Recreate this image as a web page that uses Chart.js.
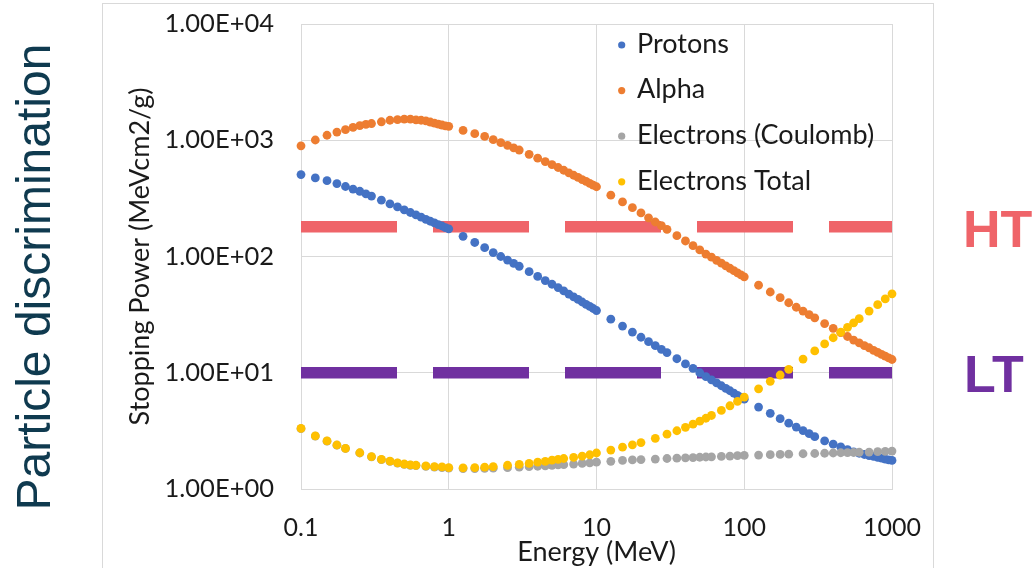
<!DOCTYPE html>
<html>
<head>
<meta charset="utf-8">
<script src="https://cdn.jsdelivr.net/npm/chart.js@4.4.1/dist/chart.umd.min.js"></script>
<style>
  html, body { margin: 0; padding: 0; background: #ffffff; }
  #wrap { width: 1036px; height: 568px; position: relative; }
</style>
</head>
<body>
<div id="wrap"><canvas id="c" width="1036" height="568"></canvas></div>
<script>
// ---------- data ----------
const energyIon = [
  0.1, 0.125, 0.15, 0.175, 0.2, 0.225, 0.25, 0.275, 0.3, 0.35, 0.4, 0.45, 0.5, 0.55, 0.6, 0.65, 0.7, 0.75, 0.8, 0.85, 0.9, 0.95,
  1, 1.25, 1.5, 1.75, 2, 2.25, 2.5, 2.75, 3, 3.5, 4, 4.5, 5, 5.5, 6, 6.5, 7, 7.5, 8, 8.5, 9, 9.5,
  10, 12.5, 15, 17.5, 20, 22.5, 25, 27.5, 30, 35, 40, 45, 50, 55, 60, 65, 70, 75, 80, 85, 90, 95,
  100, 125, 150, 175, 200, 225, 250, 275, 300, 350, 400, 450, 500, 550, 600, 650, 700, 750, 800, 850, 900, 950,
  1000
];
const protons = [
  507, 474, 449, 424, 400, 380, 364, 346, 331, 305, 284, 267, 252, 239, 228, 218, 209, 201, 195, 188, 183, 177,
  173, 149, 132, 119, 108, 100, 93.1, 87.3, 82.4, 74.0, 67.4, 62.1, 57.7, 54.0, 50.6, 47.5, 45.0, 42.7, 40.6, 38.8, 37.2, 35.7,
  34.3, 28.9, 25.2, 22.4, 20.2, 18.5, 17.1, 15.9, 14.9, 13.2, 11.9, 10.9, 10.0, 9.27, 8.69, 8.18, 7.73, 7.34, 7.00, 6.68, 6.40, 6.15,
  5.92, 5.07, 4.48, 4.03, 3.68, 3.41, 3.18, 2.99, 2.82, 2.59, 2.43, 2.30, 2.18, 2.09, 2.03, 1.98, 1.94, 1.91, 1.87, 1.84, 1.81, 1.78,
  1.76
];
const alpha = [
  895, 1005, 1104, 1175, 1233, 1288, 1337, 1368, 1393, 1442, 1486, 1503, 1517, 1517, 1500, 1486, 1466, 1435, 1406, 1377, 1352, 1330,
  1318, 1216, 1140, 1079, 1011, 953, 904, 861, 824, 757, 701, 655, 617, 583, 552, 525, 500, 479, 459, 442, 426, 411,
  398, 337, 295, 263, 237, 215, 198, 184, 171, 151, 136, 124, 114, 105, 98.6, 92.7, 87.7, 83.2, 79.2, 75.7, 72.4, 69.5,
  66.8, 56.6, 49.5, 44.2, 40.0, 36.6, 33.9, 31.6, 29.7, 26.5, 24.1, 22.1, 20.5, 19.1, 18.1, 17.1, 16.4, 15.6, 15.0, 14.4, 13.9, 13.4,
  13.0
];
const energyElectron = [
  0.1, 0.125, 0.15, 0.175, 0.2, 0.25, 0.3, 0.35, 0.4, 0.45, 0.5, 0.55, 0.6, 0.7, 0.8, 0.9,
  1, 1.25, 1.5, 1.75, 2, 2.5, 3, 3.5, 4, 4.5, 5, 5.5, 6, 7, 8, 9,
  10, 12.5, 15, 17.5, 20, 25, 30, 35, 40, 45, 50, 55, 60, 70, 80, 90,
  100, 125, 150, 175, 200, 250, 300, 350, 400, 450, 500, 550, 600, 700, 800, 900,
  1000
];
const electronsCoulomb = [
  3.30, 2.85, 2.58, 2.38, 2.23, 2.04, 1.89, 1.79, 1.73, 1.67, 1.63, 1.60, 1.59, 1.565, 1.545, 1.53,
  1.51, 1.50, 1.50, 1.505, 1.51, 1.525, 1.54, 1.555, 1.57, 1.58, 1.60, 1.61, 1.62, 1.64, 1.66, 1.68,
  1.70, 1.73, 1.76, 1.78, 1.79, 1.81, 1.83, 1.84, 1.855, 1.865, 1.875, 1.885, 1.89, 1.905, 1.92, 1.935,
  1.945, 1.96, 1.975, 1.985, 1.995, 2.01, 2.02, 2.03, 2.04, 2.05, 2.055, 2.06, 2.07, 2.08, 2.095, 2.11,
  2.12
];
const electronsTotal = [
  3.32, 2.86, 2.59, 2.39, 2.24, 2.05, 1.90, 1.80, 1.74, 1.68, 1.64, 1.61, 1.60, 1.58, 1.56, 1.55,
  1.53, 1.52, 1.53, 1.54, 1.56, 1.60, 1.63, 1.66, 1.70, 1.73, 1.77, 1.80, 1.83, 1.87, 1.92, 1.97,
  2.04, 2.16, 2.29, 2.40, 2.51, 2.73, 2.96, 3.17, 3.39, 3.61, 3.83, 4.06, 4.29, 4.74, 5.20, 5.67,
  6.18, 7.27, 8.43, 9.56, 10.7, 13.1, 15.4, 17.7, 20.0, 22.3, 24.6, 26.9, 29.2, 33.9, 38.5, 43.2,
  47.7
];
const thresholdEnergy = [0.1, 1000];
const htLevel = [180, 180];
const ltLevel = [10, 10];

const seriesNames = ['Protons', 'Alpha', 'Electrons (Coulomb)', 'Electrons Total'];
const xTickValues = [0.1, 1, 10, 100, 1000];
const xTickLabels = ['0.1', '1', '10', '100', '1000'];
const yTickValues = [1, 10, 100, 1000, 10000];
const yTickLabels = ['1.00E+00', '1.00E+01', '1.00E+02', '1.00E+03', '1.00E+04'];
const xTitle = 'Energy (MeV)';
const yTitle = 'Stopping Power (MeVcm2/g)';
const sideTitle = 'Particle discrimination';
const htLabel = 'HT';
const ltLabel = 'LT';

// ---------- styles ----------
const COLORS = ['#4472C4', '#ED7D31', '#A5A5A5', '#FFC000'];
const HT_COLOR = '#EF6469';
const LT_COLOR = '#7030A0';
const TEXT = '#1a1a1a';
const GRID = '#d9d9d9';

const pts = (xs, ys) => xs.map((x, i) => ({ x: x, y: ys[i] }));

function pointSet(label, xs, ys, color, order) {
  return {
    label: label, data: pts(xs, ys), showLine: false,
    pointRadius: 4.4, pointHoverRadius: 4.4, pointBorderWidth: 0,
    backgroundColor: color, borderColor: color, pointBackgroundColor: color,
    order: order, clip: false, inLegend: true
  };
}
function dashSet(label, ys, color) {
  return {
    label: label, data: pts(thresholdEnergy, ys), showLine: true,
    pointRadius: 0, borderColor: color, borderWidth: 11.5,
    borderDash: [96, 36], borderCapStyle: 'butt', fill: false,
    order: 10, clip: false, inLegend: false
  };
}

const framePlugin = {
  id: 'frame',
  beforeDraw(chart) {
    const ctx = chart.ctx;
    ctx.save();
    ctx.fillStyle = '#ffffff';
    ctx.fillRect(0, 0, chart.width, chart.height);
    ctx.strokeStyle = GRID;
    ctx.lineWidth = 1;
    ctx.strokeRect(102.5, 3.5, 831, 700);
    ctx.restore();
  },
  afterDraw(chart) {
    const ctx = chart.ctx;
    ctx.save();
    // legend inside plot
    ctx.font = '27px Lato';
    ctx.textBaseline = 'middle';
    ctx.textAlign = 'left';
    let row = 0;
    chart.data.datasets.forEach((ds) => {
      if (!ds.inLegend) return;
      const y = 45 + row * 45.6;
      ctx.fillStyle = ds.backgroundColor;
      ctx.beginPath();
      ctx.arc(621.7, y, 3.6, 0, Math.PI * 2);
      ctx.fill();
      ctx.fillStyle = TEXT;
      ctx.fillText(ds.label, 637, y - 1);
      row++;
    });
    // side title
    ctx.save();
    ctx.translate(49.5, 510.5);
    ctx.rotate(-Math.PI / 2);
    ctx.font = '48px "Liberation Sans"';
    ctx.fillStyle = '#0f3a4f';
    ctx.textBaseline = 'alphabetic';
    ctx.fillText(sideTitle, 0, 0);
    ctx.restore();
    // threshold labels
    ctx.font = 'bold 52px "Liberation Sans"';
    ctx.textBaseline = 'alphabetic';
    ctx.fillStyle = HT_COLOR;
    ctx.fillText(htLabel, 963, 247);
    ctx.fillStyle = LT_COLOR;
    ctx.fillText(ltLabel, 964, 392);
    ctx.restore();
  }
};

new Chart(document.getElementById('c'), {
  type: 'scatter',
  data: {
    datasets: [
      pointSet(seriesNames[0], energyIon, protons, COLORS[0], 4),
      pointSet(seriesNames[1], energyIon, alpha, COLORS[1], 3),
      pointSet(seriesNames[2], energyElectron, electronsCoulomb, COLORS[2], 2),
      pointSet(seriesNames[3], energyElectron, electronsTotal, COLORS[3], 1),
      dashSet('HT', htLevel, HT_COLOR),
      dashSet('LT', ltLevel, LT_COLOR)
    ]
  },
  options: {
    responsive: false,
    animation: false,
    devicePixelRatio: 1,
    layout: { padding: { left: 0, right: 144, top: 24, bottom: 0 } },
    plugins: { legend: { display: false }, tooltip: { enabled: false } },
    scales: {
      x: {
        type: 'logarithmic', position: 'bottom', min: 0.1, max: 1000,
        afterBuildTicks: (s) => { s.ticks = xTickValues.map(v => ({ value: v })); },
        afterFit: (s) => { s.height = 79; s.paddingLeft = 0; s.paddingRight = 0; },
        grid: { color: GRID, lineWidth: 1, drawTicks: false },
        border: { color: GRID, width: 1 },
        ticks: {
          autoSkip: false, maxRotation: 0, padding: 24, color: TEXT,
          font: { family: 'Lato', size: 25 },
          callback: (v, i) => xTickLabels[i]
        },
        title: {
          display: true, text: xTitle, color: TEXT,
          font: { family: 'Lato', size: 27 }, padding: { top: 0, bottom: 0 }
        }
      },
      y: {
        type: 'logarithmic', position: 'left', min: 1, max: 10000,
        afterBuildTicks: (s) => { s.ticks = yTickValues.map(v => ({ value: v })); },
        afterFit: (s) => { s.width = 301; s.paddingTop = 0; s.paddingBottom = 0; },
        grid: { color: GRID, lineWidth: 1, drawTicks: false },
        border: { color: GRID, width: 1 },
        ticks: {
          autoSkip: false, padding: 27, color: TEXT,
          font: { family: 'Lato', size: 25.5 },
          callback: (v, i) => yTickLabels[i]
        },
        title: {
          display: true, text: yTitle, color: TEXT,
          font: { family: 'Lato', size: 27 }, padding: { top: 124, bottom: 0 }
        }
      }
    }
  },
  plugins: [framePlugin]
});
</script>
</body>
</html>
